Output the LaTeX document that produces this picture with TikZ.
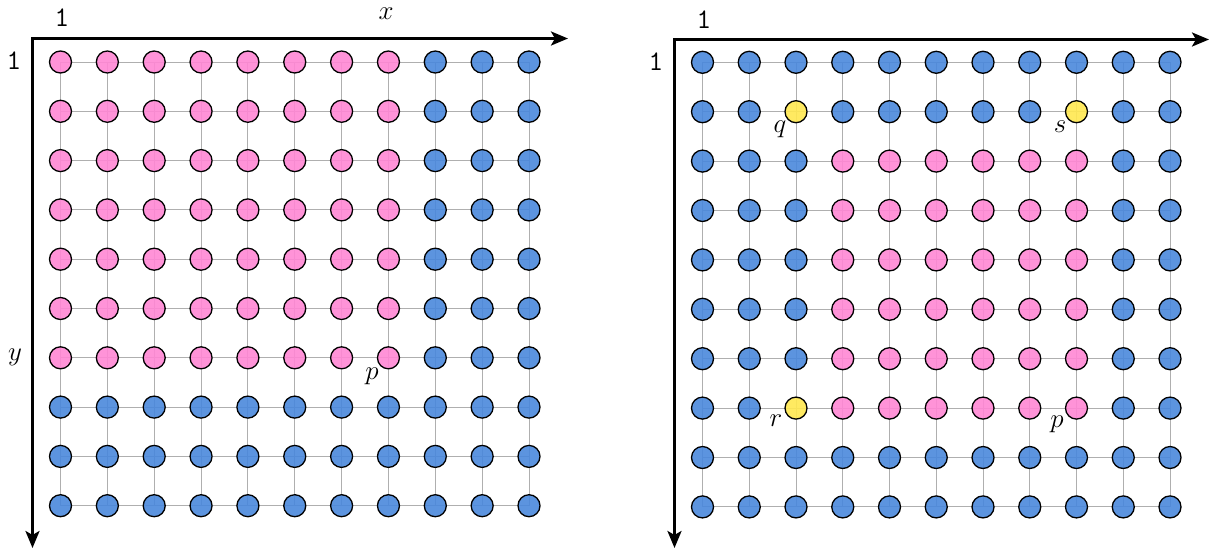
\documentclass[tikz,border=0pt]{standalone}
\usepackage{fontspec}
\usepackage{graphicx}
\usetikzlibrary{arrows.meta,backgrounds}
\definecolor{cblue}{RGB}{74,136,220}
\definecolor{cpink}{RGB}{255,135,212}
\definecolor{cyellow}{RGB}{255,232,80}
\definecolor{cgrid}{RGB}{175,175,175}
\newcommand{\mylabmath}[1]{\scalebox{1.3}{$#1$}}
\newcommand{\mylabone}{\scalebox{1.35}{\ttfamily 1}}
\begin{document}
\begin{tikzpicture}[x=1pt,y=-1pt,
  dot/.style={circle, draw=black, line width=1.3pt, minimum size=22pt, inner sep=0pt, fill opacity=0.9},
  gridline/.style={draw=cgrid, line width=1pt},
  axis/.style={line width=2.8pt, line join=miter, {Stealth[length=17pt,width=14pt,inset=4pt]}-{Stealth[length=17pt,width=14pt,inset=4pt]}},
  lab/.style={inner sep=0pt, font=\fontsize{21}{25}\selectfont}]
\useasboundingbox (0,0) rectangle (1210,550);
% ---------- left grid ----------
\foreach \r in {1,...,10}{
  \foreach \c in {1,...,11}{
    \def\col{cblue}
    \ifnum\c<9 \ifnum\r<8 \def\col{cpink}\fi\fi
    \node[dot, fill=\col] (L-\r-\c) at ({60.5+46.85*(\c-1)}, {62+49.3*(\r-1)}) {};
  }
}
% ---------- right grid ----------
\foreach \r in {1,...,10}{
  \foreach \c in {1,...,11}{
    \def\col{cblue}
    \ifnum\c>3 \ifnum\c<10 \ifnum\r>2 \ifnum\r<9 \def\col{cpink}\fi\fi\fi\fi
    \ifnum\r=2 \ifnum\c=3 \def\col{cyellow}\fi\ifnum\c=9 \def\col{cyellow}\fi\fi
    \ifnum\r=8 \ifnum\c=3 \def\col{cyellow}\fi\fi
    \node[dot, fill=\col] (R-\r-\c) at ({702.5+46.75*(\c-1)}, {62.3+49.4*(\r-1)}) {};
  }
}
\begin{scope}[on background layer]
  \foreach \g in {L,R}{
    \foreach \r in {1,...,10}{\draw[gridline] (\g-\r-1.center) -- (\g-\r-11.center);}
    \foreach \c in {1,...,11}{\draw[gridline] (\g-1-\c.center) -- (\g-10-\c.center);}
  }
\end{scope}
% ---------- axes ----------
\coordinate (LO) at (32.5,38.5);
\coordinate (LX) at (568,38.5);
\coordinate (LY) at (32.5,548);
\draw[axis] (LX) -- (LO) -- (LY);
\coordinate (RO) at (674.5,39.5);
\coordinate (RX) at (1209,39.5);
\coordinate (RY) at (674.5,548);
\draw[axis] (RX) -- (RO) -- (RY);
% ---------- labels ----------
\node[lab] (l1x) at (62,18) {\mylabone};
\node[lab] (l1y) at (14,61) {\mylabone};
\node[lab] (lx) at (386,14) {\mylabmath{x}};
\node[lab] (ly) at (15,357) {\mylabmath{y}};
\node[lab] (lp) at (372,376) {\mylabmath{p}};
\node[lab] (r1x) at (704,20) {\mylabone};
\node[lab] (r1y) at (656,62) {\mylabone};
\node[lab] (rq) at (780,129) {\mylabmath{q}};
\node[lab] (rs) at (1060,127) {\mylabmath{s}};
\node[lab] (rr) at (776,421) {\mylabmath{r}};
\node[lab] (rp) at (1057,424) {\mylabmath{p}};
\end{tikzpicture}
\end{document}
